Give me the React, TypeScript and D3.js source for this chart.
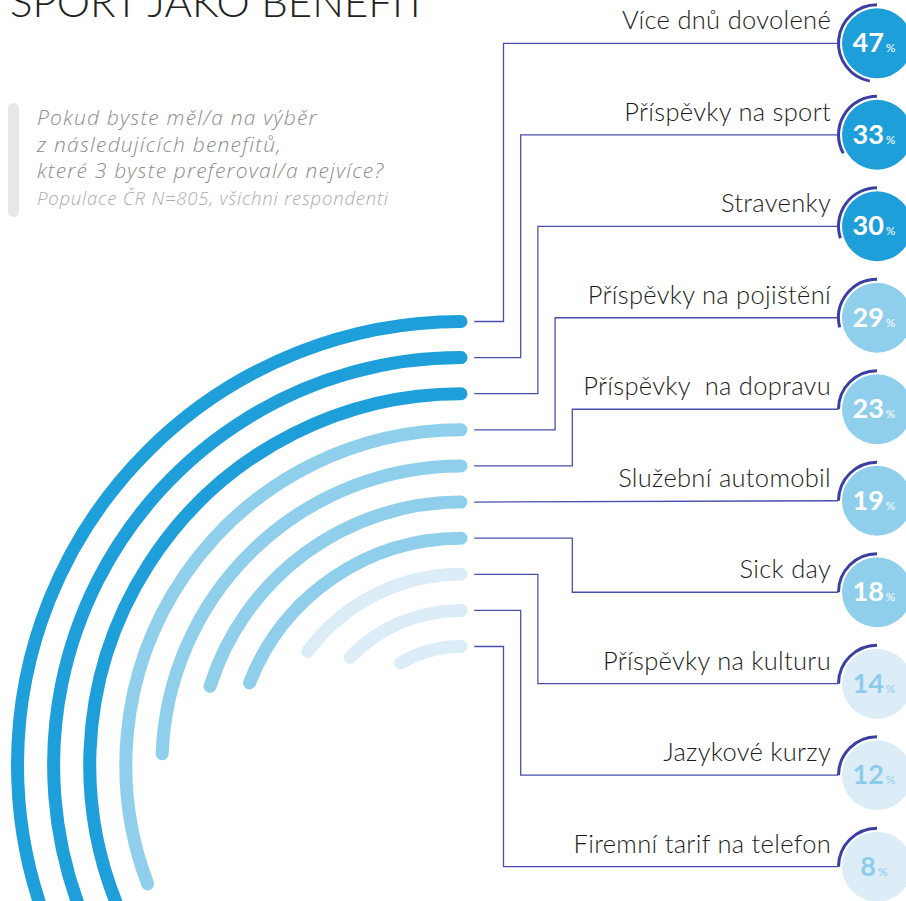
import React from 'react';
import * as d3 from 'd3';

const width = 906;
const height = 901;

// benefits ranked by share of respondents (%)
const benefits = [
  'Více dnů dovolené',
  'Příspěvky na sport',
  'Stravenky',
  'Příspěvky na pojištění',
  'Příspěvky  na dopravu',
  'Služební automobil',
  'Sick day',
  'Příspěvky na kulturu',
  'Jazykové kurzy',
  'Firemní tarif na telefon'
];
const shares = [47, 33, 30, 29, 23, 19, 18, 14, 12, 8];

const title = 'SPORT JAKO BENEFIT';
const questionLines = [
  'Pokud byste měl/a na výběr',
  'z následujících benefitů,',
  'které 3 byste preferoval/a nejvíce?'
];
const sampleNote = 'Populace ČR N=805, všichni respondenti';

// layout
const cx = 461;
const cy = 765;
const circleX = 877;
const elbowLane = [0, 1, 2, 3, 4, null, 4, 2, 1, 0];
const font = 'Lato, "Open Sans", sans-serif';
const noteFont = '"Open Sans", Lato, sans-serif';

const rad = (deg: number) => (deg * Math.PI) / 180;

export default function App() {
  const radius = d3.scalePoint<string>().domain(benefits).range([443.5, 118.5]);
  const rowY = d3.scalePoint<string>().domain(benefits).range([43.3, 866.7]);
  const sweep = d3.scaleLinear().domain([0, 100]).range([0, rad(382)]);
  const lane = d3.scaleLinear().domain([0, 4]).range([503.5, 572.3]);
  const tier = d3
    .scaleThreshold<number, string>()
    .domain([15, 30])
    .range(['#dcedf8', '#90cfec', '#1e9fda']);
  const numberFill = d3
    .scaleThreshold<number, string>()
    .domain([15])
    .range(['#8dcbeb', '#ffffff']);
  const line = d3.line();

  const rows = benefits.map((name, i) => {
    const v = shares[i];
    const r = radius(name) as number;
    const y = rowY(name) as number;
    const arc = d3.path();
    arc.arc(cx, cy, r, -Math.PI / 2, -Math.PI / 2 - sweep(v), true);

    const ring = d3.path();
    const ringAngle = Math.max(rad(90), rad(v * 3.6));
    ring.arc(circleX, y, 38.5, -Math.PI / 2, -Math.PI / 2 - ringAngle, true);

    const arcY = cy - r;
    const l = elbowLane[i];
    const pts: [number, number][] =
      l === null
        ? [[474.3, arcY], [838, y]]
        : [[474.3, arcY], [lane(l), arcY], [lane(l), y], [838, y]];
    return { name, v, r, y, arc: arc.toString(), ring: ring.toString(), link: line(pts) };
  });

  return (
    <svg
      width={width}
      height={height}
      style={{ position: 'absolute', left: 0, top: 0, display: 'block', background: '#fff' }}
    >
      <text x={10} y={17} fontFamily={font} fontWeight={300} fontSize={42} fill="#222">
        {title}
      </text>

      <rect x={8} y={103} width={11} height={114} rx={5.5} fill="#e8e8e8" />
      {questionLines.map((t, i) => (
        <text
          key={t}
          x={37}
          y={125 + i * 26.6}
          fontFamily={noteFont}
          fontStyle="italic"
          fontWeight={300}
          fontSize={21}
          letterSpacing={1.2}
          fill="#8c8c8c"
        >
          {t}
        </text>
      ))}
      <text
        x={37}
        y={205}
        fontFamily={noteFont}
        fontStyle="italic"
        fontWeight={300}
        fontSize={18.5}
        letterSpacing={0.8}
        fill="#ababab"
      >
        {sampleNote}
      </text>

      {rows.map(d => (
        <path key={'a' + d.name} d={d.arc} fill="none" stroke={tier(d.v)} strokeWidth={13} strokeLinecap="round" />
      ))}

      {rows.map(d => (
        <path key={'l' + d.name} d={d.link as string} fill="none" stroke="#4a4fae" strokeWidth={1.3} />
      ))}

      {rows.map(d => (
        <g key={'c' + d.name}>
          <text
            x={831}
            y={d.y - 14}
            textAnchor="end"
            fontFamily={font}
            fontWeight={300}
            fontSize={25.5}
            letterSpacing={0.3}
            fill="#1c1c1c"
            style={{ whiteSpace: 'pre' }}
          >
            {d.name}
          </text>
          <circle cx={circleX} cy={d.y} r={35} fill={tier(d.v)} />
          <path d={d.ring} fill="none" stroke="#3a3fa3" strokeWidth={3} />
          <text
            x={874}
            y={d.y + 9}
            textAnchor="middle"
            fontFamily={font}
            fontWeight={700}
            fontSize={27}
            fill={numberFill(d.v)}
          >
            {d.v}
            <tspan dx={2} fontSize={12} fontWeight={400}>
              %
            </tspan>
          </text>
        </g>
      ))}
    </svg>
  );
}
